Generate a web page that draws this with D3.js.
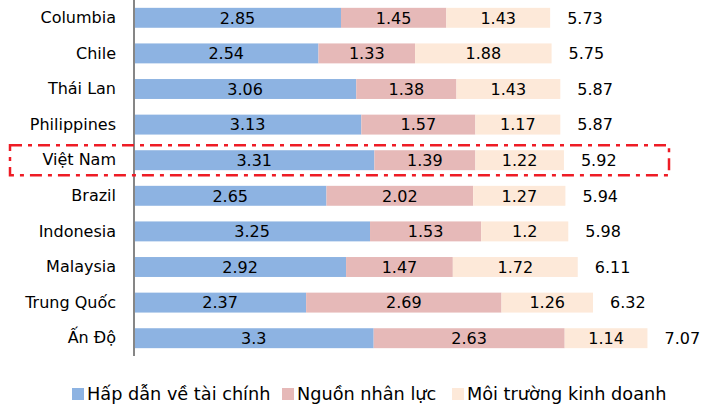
<!DOCTYPE html>
<meta charset="utf-8">
<style>
    body { margin: 0; background: #fff; }
    text { font-family: "DejaVu Sans", sans-serif; fill: #000; }
</style>
<body>
<svg id="chart" width="717" height="409"></svg>
</body>
<script src="https://d3js.org/d3.v7.min.js"></script>
<script>

    // data, top row first
    var countries = ["Columbia", "Chile", "Thái Lan", "Philippines", "Việt Nam",
        "Brazil", "Indonesia", "Malaysia", "Trung Quốc", "Ấn Độ"];
    var taiChinh = [2.85, 2.54, 3.06, 3.13, 3.31, 2.65, 3.25, 2.92, 2.37, 3.3];
    var nhanLuc = [1.45, 1.33, 1.38, 1.57, 1.39, 2.02, 1.53, 1.47, 2.69, 2.63];
    var moiTruong = [1.43, 1.88, 1.43, 1.17, 1.22, 1.27, 1.2, 1.72, 1.26, 1.14];
    var totals = [5.73, 5.75, 5.87, 5.87, 5.92, 5.94, 5.98, 6.11, 6.32, 7.07];
    var seriesNames = ["Hấp dẫn về tài chính", "Nguồn nhân lực", "Môi trường kinh doanh"];
    var seriesColors = ["#8db3e2", "#e6b9b8", "#fde9d9"];
    var highlight = "Việt Nam";

    var svg = d3.select("#chart");

    var rows = countries.map(function (c, i) {
        return { country: c, vals: [taiChinh[i], nhanLuc[i], moiTruong[i]], total: totals[i] };
    });

    var x = d3.scaleLinear().domain([0, 8]).range([134, 715]);
    var y = d3.scaleBand().domain(countries).range([0, 356])
        .paddingInner(0.44).paddingOuter(0.22);

    var stack = d3.stack().keys([0, 1, 2]).value(function (d, k) { return d.vals[k]; });
    var layers = stack(rows);

    var g = svg.selectAll("g.layer").data(layers).enter().append("g")
        .attr("class", "layer")
        .attr("fill", function (d, i) { return seriesColors[i]; });

    g.selectAll("rect").data(function (d) { return d; }).enter().append("rect")
        .attr("x", function (d) { return x(d[0]); })
        .attr("y", function (d) { return y(d.data.country); })
        .attr("width", function (d) { return x(d[1]) - x(d[0]); })
        .attr("height", y.bandwidth());

    g.selectAll("text").data(function (d) { return d.map(function (p) { return { p: p, k: d.key }; }); })
        .enter().append("text")
        .attr("x", function (d) { return (x(d.p[0]) + x(d.p[1])) / 2; })
        .attr("y", function (d) { return y(d.p.data.country) + y.bandwidth() / 2; })
        .attr("dy", "0.36em")
        .attr("text-anchor", "middle")
        .attr("font-size", 16)
        .text(function (d) { return d.p.data.vals[d.k]; });

    // totals
    svg.selectAll("text.total").data(rows).enter().append("text")
        .attr("class", "total")
        .attr("x", function (d) { return x(d.total) + 17; })
        .attr("y", function (d) { return y(d.country) + y.bandwidth() / 2; })
        .attr("dy", "0.36em")
        .attr("font-size", 16)
        .text(function (d) { return d.total.toFixed(2); });

    // category axis
    var yAxis = svg.append("g").attr("transform", "translate(134,0)")
        .call(d3.axisLeft(y).tickSize(0).tickPadding(18));
    yAxis.select(".domain").attr("stroke", "#868686").attr("stroke-width", 2)
        .attr("d", "M0,0V356");
    yAxis.selectAll("text").attr("font-size", 16)
        .attr("font-family", "DejaVu Sans, sans-serif").attr("fill", "#000");

    // highlight box
    var hy = y(highlight);
    svg.append("rect")
        .attr("x", 10).attr("y", hy - 5)
        .attr("width", 659).attr("height", y.bandwidth() + 10)
        .attr("fill", "none").attr("stroke", "#ee1c25").attr("stroke-width", 2.5)
        .attr("stroke-dasharray", "12,6,4,6");

    // legend
    var legendX = [72, 282, 452];
    var legend = svg.selectAll("g.legend").data(seriesNames).enter().append("g")
        .attr("class", "legend")
        .attr("transform", function (d, i) { return "translate(" + legendX[i] + ",388)"; });
    legend.append("rect").attr("width", 12).attr("height", 12)
        .attr("fill", function (d, i) { return seriesColors[i]; });
    legend.append("text").attr("x", 15).attr("y", 6).attr("dy", "0.36em")
        .attr("font-size", 17.7)
        .text(function (d) { return d; });

</script>
